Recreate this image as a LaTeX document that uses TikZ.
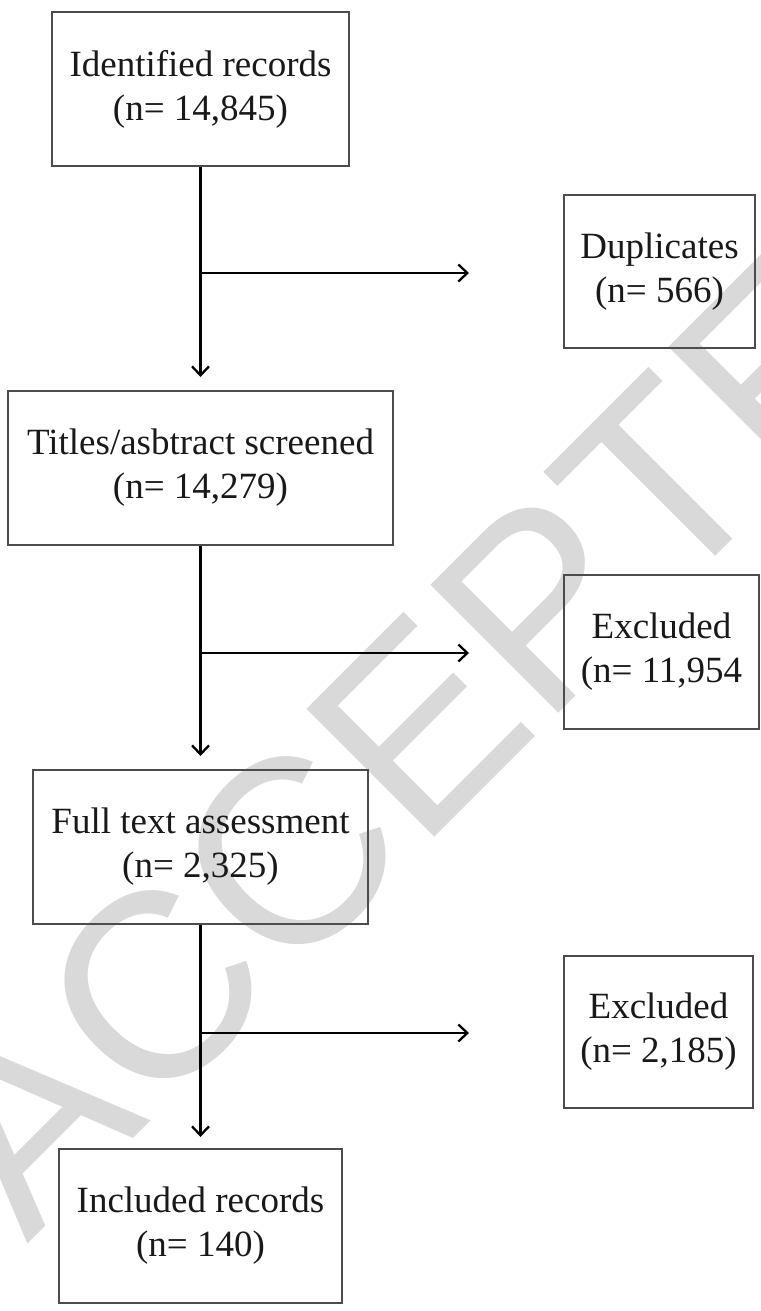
\documentclass[tikz,border=0pt]{standalone}
\usepackage{fontspec}
\setmainfont{Liberation Serif}
\newfontfamily\wmfont{Liberation Sans}
\usetikzlibrary{arrows.meta}
\definecolor{wmgray}{RGB}{217,217,217}
\begin{document}
\begin{tikzpicture}[x=1pt,y=-1pt,
  box/.style={draw=black!70, line width=2pt, align=center, inner sep=0pt,
    font=\fontsize{37}{44}\selectfont, text=black!90},
  conn/.style={line width=2.3pt, draw=black},
  arr/.style={conn, -{Straight Barb[length=9pt,width=17pt,line width=2.3pt]}},
  wmark/.style={text=wmgray, inner sep=0pt, anchor=base west, rotate=45,
    font=\wmfont\fontsize{263}{263}\selectfont}]
\useasboundingbox (0,0) rectangle (760,1311);
\begin{scope}
  \clip (0,0) rectangle (760,1311);
  \node[wmark] (wm) at (27,1245) {ACCEPTED};
\end{scope}

\node[box, minimum width=297pt, minimum height=154pt] (b1) at (200.5,89) {Identified records\\(n= 14,845)};
\node[box, minimum width=385pt, minimum height=154pt] (b2) at (200.5,468) {Titles/asbtract screened\\(n= 14,279)};
\node[box, minimum width=335pt, minimum height=154pt] (b3) at (200.5,847) {Full text assessment\\(n= 2,325)};
\node[box, minimum width=283pt, minimum height=154pt] (b4) at (200.5,1226) {Included records\\(n= 140)};

\node[box, minimum width=191pt, minimum height=153pt] (d1) at (659.5,271.5) {Duplicates\\(n= 566)};
\node[box, minimum width=195pt, minimum height=154pt] (x1) at (661.5,652) {Excluded\\(n= 11,954};
\node[box, minimum width=189pt, minimum height=152pt] (x2) at (658.5,1032) {Excluded\\(n= 2,185)};

\coordinate (j1) at (200.5,273);
\coordinate (e1) at (469,273);
\coordinate (j2) at (200.5,653);
\coordinate (e2) at (469,653);
\coordinate (j3) at (200.5,1033);
\coordinate (e3) at (469,1033);

\draw[arr, shorten >=13pt] (b1.south) -- (b2.north);
\draw[arr, shorten >=13pt] (b2.south) -- (b3.north);
\draw[arr, shorten >=11pt] (b3.south) -- (b4.north);
\draw[arr] (j1) -- (e1);
\draw[arr] (j2) -- (e2);
\draw[arr] (j3) -- (e3);
\end{tikzpicture}
\end{document}
